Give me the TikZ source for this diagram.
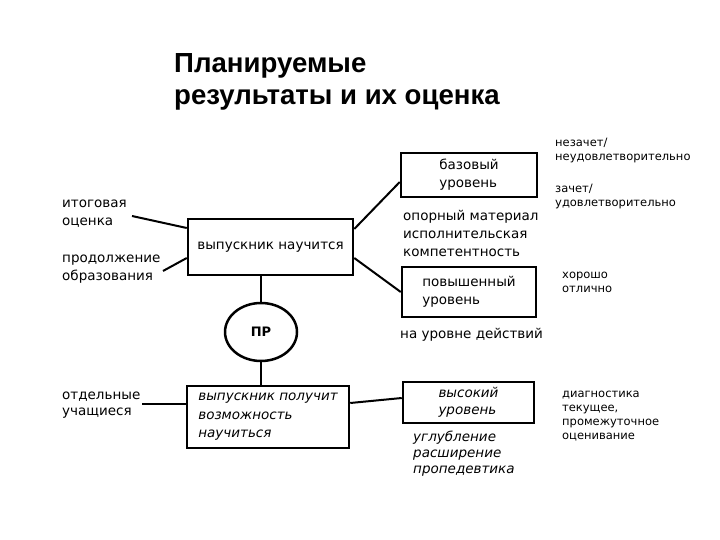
\documentclass[tikz,border=0pt]{standalone}
\usepackage{fontspec}
\setmainfont{DejaVu Sans}
\newfontfamily\titlefont{Liberation Sans}
\usetikzlibrary{positioning,shapes.geometric}
\begin{document}
\begin{tikzpicture}[x=1pt, y=-1pt,
    box/.style={draw, line width=2.5pt, inner sep=0pt, align=left, font=\fontsize{13.5}{18}\selectfont},
    link/.style={line width=2pt},
    note/.style={anchor=west, inner sep=0pt, align=left, font=\fontsize{13.5}{18}\selectfont},
    small/.style={anchor=west, inner sep=0pt, align=left, font=\fontsize{11.5}{14}\selectfont}]
    \useasboundingbox (0,0) rectangle (720,540);

    % title
    \node[anchor=north west, inner sep=0pt, align=left, font=\titlefont\bfseries\fontsize{27.6}{32}\selectfont] (title) at (174,53) {Планируемые\\результаты и их оценка};

    % main boxes and PR
    \node[box, minimum width=165pt, minimum height=56pt] (main) at (270.5,247) {выпускник научится};
    \node[draw, line width=2.5pt, ellipse, minimum width=72pt, minimum height=58pt, inner sep=0pt, font=\bfseries\fontsize{13}{16}\selectfont] (pr) at (261,332) {ПР};
    \node[box, minimum width=162pt, minimum height=62pt, font=\itshape\fontsize{13.5}{18.5}\selectfont] (lower) at (268,417) {выпускник получит\\возможность\\научиться};

    % levels
    \node[box, minimum width=136pt, minimum height=44pt] (base) at (469,175) {базовый\\уровень};
    \node[box, minimum width=134pt, minimum height=50pt] (raised) at (469,292) {повышенный\\уровень};
    \node[box, minimum width=131pt, minimum height=41pt, font=\itshape\fontsize{13.5}{17}\selectfont] (high) at (468.5,402.5) {высокий\\уровень};

    % left labels
    \node[note] (itog) at (62,214) {итоговая\\оценка};
    \node[note] (cont) at (62,269.5) {продолжение\\образования};
    \node[note, font=\fontsize{13.5}{16}\selectfont] (sep) at (62,405) {отдельные\\учащиеся};

    % right labels
    \node[note] (core) at (403,233) {опорный материал\\исполнительская\\компетентность};
    \node[note] (act) at (400,335) {на уровне действий};
    \node[note, font=\itshape\fontsize{13.5}{16}\selectfont] (deep) at (413,453.5) {углубление\\расширение\\пропедевтика};
    \node[small] (fail) at (555,150.5) {незачет/\\неудовлетворительно};
    \node[small] (pass) at (555,197) {зачет/\\удовлетворительно};
    \node[small] (good) at (562,282) {хорошо\\отлично};
    \node[small] (diag) at (562,416) {диагностика\\текущее,\\промежуточное\\оценивание};

    % connectors
    \coordinate (itogEnd) at (132,216);
    \coordinate (contEnd) at (163,271);
    \coordinate (sepEnd) at (142,404);
    \draw[link] (itogEnd) -- ([yshift=19pt]main.west);
    \draw[link] (contEnd) -- ([yshift=-11pt]main.west);
    \draw[link] (sepEnd) -- (sepEnd -| lower.west);
    \draw[link] ([yshift=18pt]main.east) -- ([yshift=-7pt]base.west);
    \draw[link] ([yshift=-11pt]main.east) -- (raised.west);
    \draw[link] ([yshift=14pt]lower.east) -- ([yshift=4.5pt]high.west);
    \draw[link] (pr.north) -- (pr.north |- main.south);
    \draw[link] (pr.south) -- (pr.south |- lower.north);
\end{tikzpicture}
\end{document}
